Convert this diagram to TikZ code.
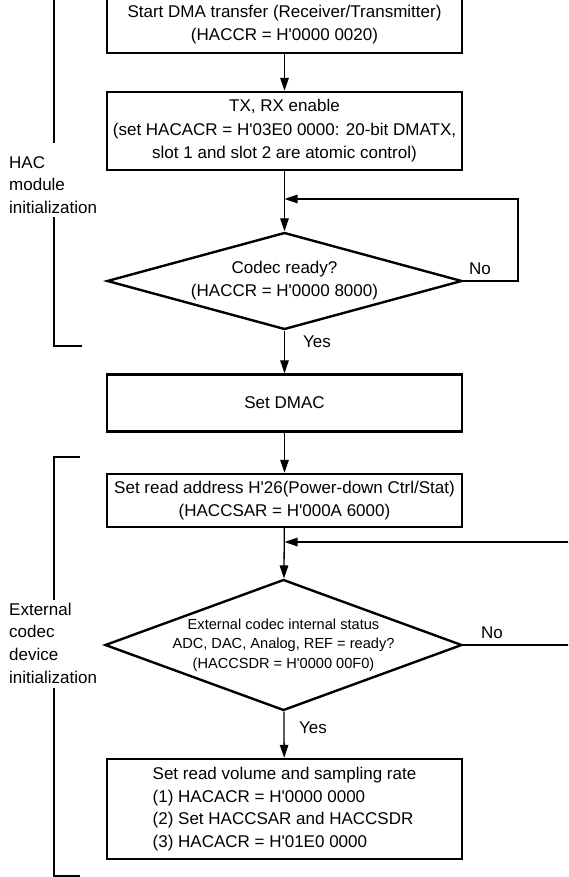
\documentclass[tikz,border=0pt]{standalone}
\usepackage{fontspec}
\setmainfont{Liberation Sans}[Ligatures=TeXOff]
\usetikzlibrary{shapes.geometric,arrows.meta}

\begin{document}
\begin{tikzpicture}[x=1pt,y=-1pt,
  box/.style={draw,line width=2.4pt,minimum width=355pt,inner sep=0pt,align=center,font=\fontsize{17}{23.5}\selectfont},
  decision/.style={draw,diamond,line width=2.4pt,inner sep=0pt},
  flow/.style={line width=1.3pt,-{Triangle[length=13pt,width=8.5pt]}},
  bracket/.style={line width=1.3pt},
  lbl/.style={inner sep=0pt,font=\fontsize{17}{22.7}\selectfont}]
  \clip (0,0) rectangle (568,877);

  % HAC module part
  \node[box,minimum height=57pt] (dmastart) at (284.5,24.5) {Start DMA transfer (Receiver/Transmitter)\\(HACCR = H'0000 0020)};
  \node[box,minimum height=78pt] (txrx) at (284.5,131) {TX, RX enable\\(set HACACR = H'03E0 0000: 20-bit DMATX,\\slot 1 and slot 2 are atomic control)};
  \node[decision,minimum width=355pt,minimum height=97pt] (ready) at (284.5,281) {};
  \node[align=center,font=\fontsize{17}{23}\selectfont] (ready-txt) at (ready) {Codec ready?\\(HACCR = H'0000 8000)};
  \node[box,minimum height=57pt] (dmac) at (284.5,403) {Set DMAC};

  % external codec part
  \node[box,minimum height=53pt] (rdaddr) at (284.5,500.5) {Set read address H'26(Power-down Ctrl/Stat)\\(HACCSAR = H'000A 6000)};
  \node[decision,minimum width=357pt,minimum height=131pt] (status) at (283.5,645) {};
  \node[align=center,font=\fontsize{14.6}{19.3}\selectfont] (status-txt) at (status) {External codec internal status\\ADC, DAC, Analog, REF = ready?\\(HACCSDR = H'0000 00F0)};
  \node[box,align=left,minimum height=100pt,font=\fontsize{17}{22.7}\selectfont] (volume) at (284.5,809) {Set read volume and sampling rate\\(1) HACACR = H'0000 0000\\(2) Set HACCSAR and HACCSDR\\(3) HACACR = H'01E0 0000};

  \draw[flow] (dmastart) -- (txrx);
  \draw[flow] (txrx) -- (ready);
  \draw[flow] (ready) -- (dmac);
  \draw[flow] (dmac) -- (rdaddr);
  \draw[flow] (rdaddr) -- (status);
  \draw[flow] (status) -- (volume);

  % wait loops
  \coordinate (loopA) at (518,199);
  \coordinate (joinA) at (284.5,199);
  \draw[flow] (ready.east) -| (loopA) -- (joinA);
  \coordinate (loopB) at (600,542);
  \coordinate (joinB) at (284.5,542);
  \draw[flow] (status.east) -| (loopB) -- (joinB);

  \node[lbl] (noA) at (480,269) {No};
  \node[lbl] (yesA) at (317,342) {Yes};
  \node[lbl] (noB) at (492,633) {No};
  \node[lbl] (yesB) at (313,728) {Yes};

  % brackets on the left
  \node[lbl,anchor=west,align=left] (hac) at (9,185) {HAC\\module\\initialization};
  \draw[bracket] (54,-20) -- (54,143);
  \draw[bracket] (54,217) -- (54,346) -- (82,346);
  \node[lbl,anchor=west,align=left] (ext) at (9,643) {External\\codec\\device\\initialization};
  \draw[bracket] (80,457) -- (54,457) -- (54,600);
  \draw[bracket] (54,688) -- (54,876) -- (80,876);
\end{tikzpicture}
\end{document}
